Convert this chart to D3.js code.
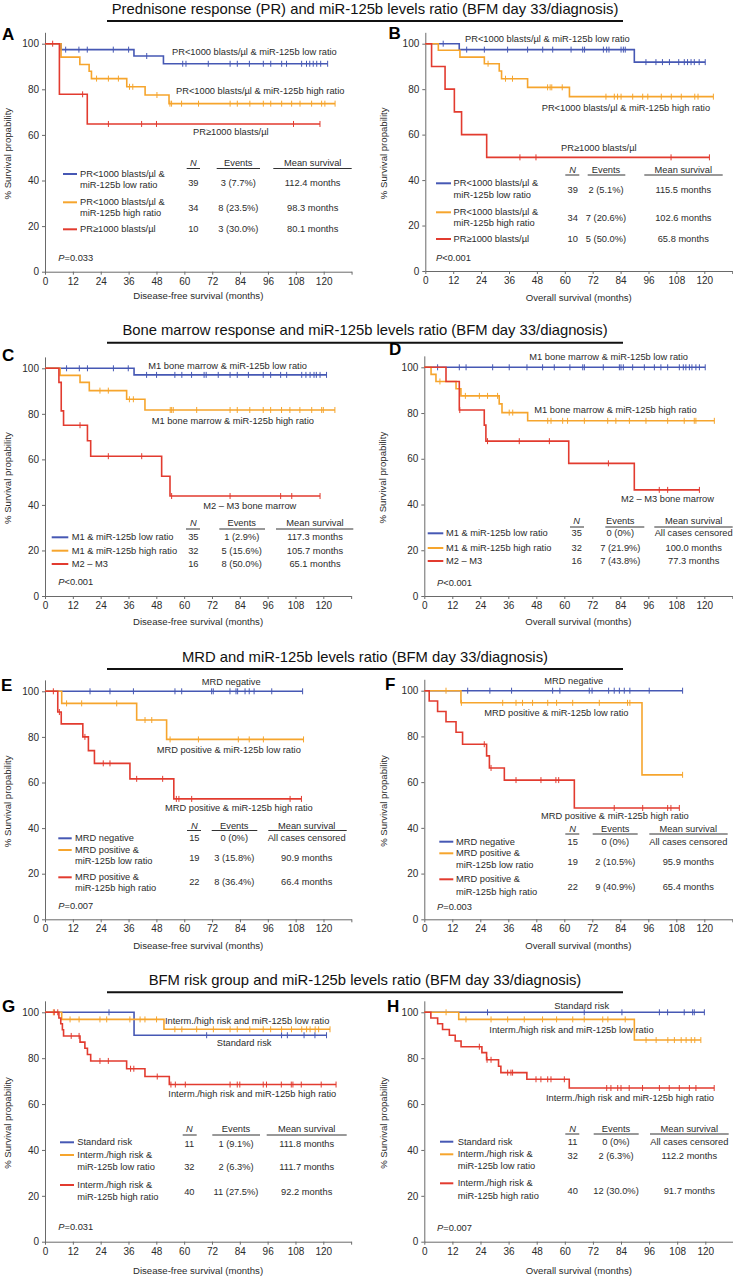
<!DOCTYPE html>
<html><head><meta charset="utf-8">
<script src="https://cdn.jsdelivr.net/npm/d3@7"></script>
<style>body{margin:0;background:#fff}svg{display:block}</style>
</head><body><svg id="c" width="733" height="1276"></svg>
<script>
// ---------- shared ----------
const monthTicks = [0,12,24,36,48,60,72,84,96,108,120,132];
const yTicks = [0,20,40,60,80,100];
const sectionTitles = [
  "Prednisone response (PR) and miR-125b levels ratio (BFM day 33/diagnosis)",
  "Bone marrow response and miR-125b levels ratio (BFM day 33/diagnosis)",
  "MRD and miR-125b levels ratio (BFM day 33/diagnosis)",
  "BFM risk group and miR-125b levels ratio (BFM day 33/diagnosis)"
];
const yAxisTitle = "% Survival propability";
const tableHeads = ["N","Events","Mean survival"];

// ---------- Panel A ----------
const A_blueSteps = [[6.9,97.4],[38.3,94.6],[51.0,91.2]];
const A_blueCens = [8.9,14.6,18.2,29.4,36.0,43.8,59.3,60.7,70.3,79.7,82.8,88.0,94.0,97.2,101.9,104.0,110.5,112.6,114.0,115.5,117.0,118.7,121.7];
const A_orangeSteps = [[6.9,94.1],[15.0,90.9],[19.0,87.9],[20.0,84.7],[35.2,81.1],[43.1,77.5],[53.4,73.7]];
const A_orangeCens = [22.2,27.3,31.6,36.4,37.8,48.2,53.8,54.5,58.8,66.1,79.7,82.8,88.2,94.0,97.2,101.9,106.2,109.8,114.8,119.1,120.5,124.9];
const A_redSteps = [[6.2,77.8],[18.2,64.8]];
const A_redCens = [3.3,16.2,27.3,41.6,48.0,107.0,118.4];
const A_curveLabels = ["PR<1000 blasts/µl & miR-125b low ratio","PR<1000 blasts/µl & miR-125b high ratio","PR≥1000 blasts/µl"];
const A_legend = [["PR<1000 blasts/µl &","miR-125b low ratio"],["PR<1000 blasts/µl &","miR-125b high ratio"],["PR≥1000 blasts/µl"]];
const A_table = [["39","3 (7.7%)","112.4 months"],["34","8 (23.5%)","98.3 months"],["10","3 (30.0%)","80.1 months"]];
const A_p = ["=","0.033"];

// ---------- Panel B ----------
const B_blueSteps = [[14.6,97.4],[89.9,91.9]];
const B_blueCens = [7.7,17.8,25.4,35.4,44.0,50.5,54.8,62.7,67.7,68.5,76.6,78.0,79.0,84.2,85.2,86.0,94.9,99.2,102.0,105.0,109.0,111.4,112.8,114.3,115.7,117.8,120.4];
const B_orangeSteps = [[5.6,97.1],[14.9,94.1],[25.4,91.2],[31.8,88.0],[32.8,84.6],[44.0,80.8],[62.0,76.7]];
const B_orangeCens = [27.0,34.5,37.5,52.6,53.7,54.4,58.9,77.7,81.3,82.7,84.2,89.2,93.5,95.7,101.5,105.8,110.1,115.9,117.3,123.9];
const B_redSteps = [[2.7,90],[8.5,80],[12.5,70],[15.6,60],[26.4,50]];
const B_redCens = [40.7,47.6,105.7,122.2];
const B_curveLabels = A_curveLabels;
const B_legend = A_legend;
const B_table = [["39","2 (5.1%)","115.5 months"],["34","7 (20.6%)","102.6 months"],["10","5 (50.0%)","65.8 months"]];
const B_p = ["<","0.001"];

// ---------- Panel C ----------
const C_blueSteps = [[38.4,97.1]];
const C_blueCens = [9.3,14.8,18.3,29.5,35.9,43.8,48.1,56.0,59.0,63.2,68.6,69.5,74.7,79.8,82.9,87.7,94.1,97.3,101.6,104.2,110.7,112.5,114.3,116.0,117.0,118.6,121.4];
const C_orangeSteps = [[6.5,96.9],[15.1,93.8],[19.1,90.2],[35.2,86.4],[43.1,81.7]];
const C_orangeCens = [23.7,27.3,36.4,38.1,54.0,54.6,55.3,65.4,79.8,82.9,88.3,94.1,97.3,102.0,105.6,109.9,115.0,119.3,120.0,125.0];
const C_redSteps = [[6.0,93.8],[7.0,81.3],[8.0,75.0],[18.3,68.2],[19.7,61.4],[50.3,52.6],[53.9,43.9]];
const C_redCens = [15.1,27.3,41.7,54.6,79.8,101.6,106.4,118.6];
const C_curveLabels = ["M1 bone marrow & miR-125b low ratio","M1 bone marrow & miR-125b high ratio","M2 – M3 bone marrow"];
const C_legend = [["M1 & miR-125b low ratio"],["M1 & miR-125b high ratio"],["M2 – M3"]];
const C_table = [["35","1 (2.9%)","117.3 months"],["32","5 (15.6%)","105.7 months"],["16","8 (50.0%)","65.1 months"]];
const C_p = ["<","0.001"];

// ---------- Panel D ----------
const D_blueSteps = [];
const D_blueCens = [5.7,15.0,17.9,29.3,36.4,44.0,50.7,55.7,62.4,67.9,68.6,76.7,83.6,84.3,85.3,89.3,94.3,98.6,101.4,104.3,109.3,111.0,112.1,113.6,114.7,116.4,117.9,120.4];
const D_orangeSteps = [[2.9,96.9],[5.0,93.8],[13.6,90.6],[15.7,87.5],[32.1,84.0],[33.3,80.2],[44.3,76.6]];
const D_orangeCens = [6.7,17.6,23.6,27.1,31.4,36.4,37.9,52.9,54.3,59.3,61.4,68.6,78.6,82.1,87.9,95.0,104.3,111.4,115.7,116.4,124.3];
const D_redSteps = [[9.3,93.8],[15.0,81.3],[25.7,74.7],[26.4,67.7],[61.9,58.0],[90.0,46.4]];
const D_redCens = [15.2,27.1,40.7,53.6,78.9,100.7,104.3,117.9];
const D_curveLabels = C_curveLabels;
const D_legend = C_legend;
const D_table = [["35","0 (0%)","All cases censored"],["32","7 (21.9%)","100.0 months"],["16","7 (43.8%)","77.3 months"]];
const D_p = ["<","0.001"];

// ---------- Panel E ----------
const E_blueSteps = [];
const E_blueCens = [19.4,28.0,38.1,56.0,58.9,71.8,72.5,79.7,82.3,83.0,86.2,88.0,90.1,97.7,111.0];
const E_orangeSteps = [[7.2,94.7],[39.5,87.4],[52.4,78.9]];
const E_orangeCens = [9.3,15.8,30.9,43.1,46.0,53.9,66.1,83.3,88.0,94.1,111.4];
const E_redSteps = [[5.5,90.9],[7.0,85.7],[16.3,80.0],[18.7,74.0],[21.3,68.4],[36.6,61.6],[55.5,52.8]];
const E_redCens = [3.6,6.2,17.2,25.1,28.0,39.5,50.7,56.6,57.7,63.2,105.6,110.5];
const E_curveLabels = ["MRD negative","MRD positive & miR-125b low ratio","MRD positive & miR-125b high ratio"];
const E_legend = [["MRD negative"],["MRD positive &","miR-125b low ratio"],["MRD positive &","miR-125b high ratio"]];
const E_table = [["15","0 (0%)","All cases censored"],["19","3 (15.8%)","90.9 months"],["22","8 (36.4%)","66.4 months"]];
const E_p = ["=","0.007"];

// ---------- Panel F ----------
const F_blueSteps = [];
const F_blueCens = [18.6,28.1,37.4,55.0,58.1,70.7,71.9,79.0,81.4,83.6,85.7,88.1,96.4,110.7];
const F_orangeSteps = [[15.7,94.7],[93.3,63.2]];
const F_orangeCens = [9.3,15.9,33.6,39.3,42.1,46.4,52.9,56.7,63.6,75.0,87.1,88.1,110.7];
const F_redSteps = [[2.1,95.5],[5.7,90.9],[9.3,86.4],[13.6,81.8],[16.4,76.6],[26.7,71.5],[27.9,66.2],[34.3,60.9],[64.3,48.7]];
const F_redCens = [25.7,28.6,39.3,50.0,56.4,57.6,81.4,93.6,104.3,105.7,109.3];
const F_curveLabels = E_curveLabels;
const F_legend = E_legend;
const F_table = [["15","0 (0%)","All cases censored"],["19","2 (10.5%)","95.9 months"],["22","9 (40.9%)","65.4 months"]];
const F_p = ["=","0.003"];

// ---------- Panel G ----------
const G_blueSteps = [[38.4,90.0]];
const G_blueCens = [27.6,69.7,102.0,104.5,111.7,116.4,121.4];
const G_orangeSteps = [[7.2,96.9],[51.3,92.6]];
const G_orangeCens = [3.6,10.8,14.7,23.7,26.6,36.6,41.0,43.1,48.1,56.0,59.0,65.4,72.6,79.8,82.9,88.3,94.1,97.3,102.0,106.3,110.7,112.8,114.3,116.5,118.0,122.9];
const G_redSteps = [[6.0,97.5],[6.8,95.0],[7.5,92.4],[8.0,89.7],[15.1,87.0],[17.2,84.3],[18.3,81.6],[19.7,78.8],[35.2,75.4],[43.1,72.0],[53.6,68.5]];
const G_redCens = [4.0,5.5,11.3,14.7,23.7,27.3,36.9,38.3,48.4,54.3,56.2,60.5,79.8,82.9,84.0,94.1,95.5,101.9,106.2,106.9,110.5,119.1,125.5];
const G_curveLabels = ["Standard risk","Interm./high risk and miR-125b low ratio","Interm./high risk and miR-125b high ratio"];
const G_legend = [["Standard risk"],["Interm./high risk &","miR-125b low ratio"],["Interm./high risk &","miR-125b high ratio"]];
const G_table = [["11","1 (9.1%)","111.8 months"],["32","2 (6.3%)","111.7 months"],["40","11 (27.5%)","92.2 months"]];
const G_p = ["=","0.031"];

// ---------- Panel H ----------
const H_blueSteps = [];
const H_blueCens = [27.0,68.3,84.4,100.4,103.9,111.0,114.6,115.3,119.6];
const H_orangeSteps = [[14.7,96.9],[89.7,87.9]];
const H_orangeCens = [9.3,17.8,28.5,35.6,42.7,50.5,56.5,63.4,68.3,76.2,78.4,85.8,94.7,99.0,104.0,106.8,109.7,111.8,114.0,115.5,118.1];
const H_redSteps = [[2.8,97.5],[5.7,95.0],[7.8,92.5],[10.7,90.0],[13.2,87.5],[15.7,85.0],[24.6,82.4],[26.6,79.3],[31.7,76.5],[32.7,73.7],[43.8,70.8],[61.9,67.0]];
const H_redCens = [23.5,26.8,28.5,35.6,37.0,37.7,47.7,49.8,52.7,54.1,59.8,77.9,79.7,82.6,84.0,87.5,93.2,100.4,104.6,108.9,113.2,116.0,123.8];
const H_curveLabels = G_curveLabels;
const H_legend = G_legend;
const H_table = [["11","0 (0%)","All cases censored"],["32","2 (6.3%)","112.2 months"],["40","12 (30.0%)","91.7 months"]];
const H_p = ["=","0.007"];

// ---------- styling ----------
const FONT = '"Liberation Sans", Arial, Helvetica, sans-serif';
const COLORS = {blue:"#4658b4", orange:"#f6a52d", red:"#e23b2f"};
const TXT = "#2b2b2b";

// ---------- layout ----------
const panels = [
 {letter:"A", lx:2, ly:40, x0:45, x120:323.7, y100:43.7, y0:271.7, ylabX:7, xlab:"Disease-free survival (months)", xlabY:295.5,
  series:[["blue",A_blueSteps,A_blueCens],["orange",A_orangeSteps,A_orangeCens],["red",A_redSteps,A_redCens]],
  labels:A_curveLabels, labelPos:[[172,52],[176,90.7],[193,131.7]],
  legend:A_legend, legX:[63,77], legTextX:80, legY:[[174,185],[202.3,213.3],[229.3]],
  table:A_table, cols:[193.3,238.3,312.7], headY:163.3, ulY:168.5, ul:[[186.7,200],[216.7,260],[273.3,351.7]], rowY:[183.3,207.7,229.3],
  p:A_p, pX:58.3, pY:257.7},
 {letter:"B", lx:388.5, ly:38.5, x0:425.3, x120:704.3, y100:43.7, y0:271, ylabX:383.5, xlab:"Overall survival (months)", xlabY:297.5,
  series:[["blue",B_blueSteps,B_blueCens],["orange",B_orangeSteps,B_orangeCens],["red",B_redSteps,B_redCens]],
  labels:B_curveLabels, labelPos:[[465,39.3],[541.7,108.3],[561,148.3]],
  legend:B_legend, legX:[436,451], legTextX:453.5, legY:[[183.3,195],[212.3,223.3],[239]],
  table:B_table, cols:[572.7,606,683.3], headY:170, ulY:175, ul:[[565.3,579.3],[587.7,625.3],[644.3,722.7]], rowY:[190,218.3,239],
  p:B_p, pX:436, pY:257.7},
 {letter:"C", lx:2, ly:360.7, x0:45, x120:323.3, y100:368.3, y0:596, ylabX:7, xlab:"Disease-free survival (months)", xlabY:621,
  series:[["blue",C_blueSteps,C_blueCens],["orange",C_orangeSteps,C_orangeCens],["red",C_redSteps,C_redCens]],
  labels:C_curveLabels, labelPos:[[148.3,366],[151.7,420.7],[203.3,505.7]],
  legend:C_legend, legX:[51.7,68.3], legTextX:71.7, legY:[[537.3],[550.7],[564]],
  table:C_table, cols:[193.3,241.7,315], headY:523.3, ulY:529, ul:[[186,200],[219.3,265],[276,353.3]], rowY:[537.3,550.7,564],
  p:C_p, pX:58.3, pY:581.7},
 {letter:"D", lx:389, ly:355, x0:424.3, x120:704.3, y100:367.3, y0:596, ylabX:382.5, xlab:"Overall survival (months)", xlabY:621,
  series:[["blue",D_blueSteps,D_blueCens],["orange",D_orangeSteps,D_orangeCens],["red",D_redSteps,D_redCens]],
  labels:D_curveLabels, labelPos:[[529.3,357.3],[534.3,410],[621,499]],
  legend:D_legend, legX:[427.7,443.3], legTextX:446, legY:[[533.3],[548],[561]],
  table:D_table, cols:[576.7,620.3,693.7], headY:521, ulY:527, ul:[[570,584],[605.3,644.3],[654.3,732.7]], rowY:[533.3,548,561],
  p:D_p, pX:437, pY:583.3},
 {letter:"E", lx:1, ly:691, x0:45, x120:323.5, y100:691.3, y0:919.3, ylabX:7, xlab:"Disease-free survival (months)", xlabY:945,
  series:[["blue",E_blueSteps,E_blueCens],["orange",E_orangeSteps,E_orangeCens],["red",E_redSteps,E_redCens]],
  labels:E_curveLabels, labelPos:[[201.7,681.7],[156.7,750],[165,807.7]],
  legend:E_legend, legX:[58.3,71.7], legTextX:75, legY:[[838.3],[850,861],[877.3,888.3]],
  table:E_table, cols:[194.3,234.3,306.7], headY:825.7, ulY:830.5, ul:[[187,201],[211.7,257.3],[268.3,346.7]], rowY:[838.3,858.3,882.3],
  p:E_p, pX:58.3, pY:906},
 {letter:"F", lx:385, ly:690, x0:424.3, x120:704.3, y100:690.7, y0:919.3, ylabX:383, xlab:"Overall survival (months)", xlabY:945,
  series:[["blue",F_blueSteps,F_blueCens],["orange",F_orangeSteps,F_orangeCens],["red",F_redSteps,F_redCens]],
  labels:F_curveLabels, labelPos:[[544.3,681],[484.3,713.3],[541,815.7]],
  legend:F_legend, legX:[439.3,453.3], legTextX:456, legY:[[841.7],[853.3,865],[879.3,892.3]],
  table:F_table, cols:[572.7,615.3,688.3], headY:829, ulY:834, ul:[[565.3,579.3],[592.7,637.7],[649.3,727.7]], rowY:[841.7,861.7,886.7],
  p:F_p, pX:437, pY:907.3},
 {letter:"G", lx:2, ly:1011.7, x0:45, x120:323.3, y100:1012.3, y0:1241.7, ylabX:7, xlab:"Disease-free survival (months)", xlabY:1270,
  series:[["blue",G_blueSteps,G_blueCens],["orange",G_orangeSteps,G_orangeCens],["red",G_redSteps,G_redCens]],
  labels:G_curveLabels, labelPos:[[216.7,1043.3],[165,1021],[168.3,1094.3]],
  legend:G_legend, legX:[60,74], legTextX:77.3, legY:[[1142.3],[1155,1166.7],[1185,1196.7]],
  table:G_table, cols:[189.3,236,306.7], headY:1129.3, ulY:1135, ul:[[182.7,196.7],[212.3,260],[266.7,346.7]], rowY:[1144,1166.7,1191.7],
  p:G_p, pX:58.3, pY:1226.7},
 {letter:"H", lx:387, ly:1011.7, x0:424.3, x120:705.3, y100:1012.3, y0:1241.7, ylabX:383, xlab:"Overall survival (months)", xlabY:1270,
  series:[["blue",H_blueSteps,H_blueCens],["orange",H_orangeSteps,H_orangeCens],["red",H_redSteps,H_redCens]],
  labels:H_curveLabels, labelPos:[[554.3,1005.7],[489.3,1030],[546,1098.3]],
  legend:H_legend, legX:[440,453.3], legTextX:457.7, legY:[[1141.7],[1154.3,1165.7],[1183.3,1195.7]],
  table:H_table, cols:[572.7,616,689.3], headY:1129, ulY:1134, ul:[[565.3,579.3],[593.7,638.7],[650,728.7]], rowY:[1142.3,1155.7,1190.7],
  p:H_p, pX:437, pY:1228.3}
];
const titleY = [21, 342.7, 669, 992.3];
const colorOrder = ["blue","orange","red"];

const svg = d3.select("#c").style("font-family", FONT);

// section titles
sectionTitles.forEach((t,i) => {
  svg.append("text").attr("x",365).attr("y",titleY[i]-7.5).attr("text-anchor","middle")
    .attr("font-size",14.8).attr("fill","#111").text(t);
  svg.append("line").attr("x1",107).attr("x2",623).attr("y1",titleY[i]).attr("y2",titleY[i])
    .attr("stroke","#111").attr("stroke-width",2);
});

function survAt(steps, t){
  let v = 100;
  steps.forEach(([st,sv]) => { if (st <= t) v = sv; });
  return v;
}

panels.forEach(p => {
  const g = svg.append("g");
  const kx = (p.x120 - p.x0)/120;
  const ky = (p.y0 - p.y100)/100;
  const x = d3.scaleLinear().domain([0,132]).range([p.x0, p.x0 + 132*kx]);
  const y = d3.scaleLinear().domain([0,105]).range([p.y0, p.y0 - 105*ky]);

  g.append("g").attr("transform",`translate(0,${p.y0})`)
    .call(d3.axisBottom(x).tickValues(monthTicks).tickSize(3).tickSizeOuter(0).tickPadding(3)
      .tickFormat(d => d <= 120 ? d : ""));
  g.append("g").attr("transform",`translate(${p.x0},0)`)
    .call(d3.axisLeft(y).tickValues(yTicks).tickSize(3).tickSizeOuter(0).tickPadding(3));
  g.selectAll(".domain, .tick line").attr("stroke","#6a6a6a").attr("stroke-width",1);
  g.selectAll(".tick text").attr("font-size",10).attr("fill",TXT).attr("font-family",FONT);

  // axis titles
  g.append("text").attr("transform",`translate(${p.ylabX},${(p.y0+p.y100)/2-4}) rotate(-90)`)
    .attr("text-anchor","middle").attr("dominant-baseline","central").attr("font-size",9.6).attr("fill",TXT).text(yAxisTitle);
  g.append("text").attr("x",(x(0)+x(132))/2).attr("y",p.xlabY).attr("text-anchor","middle")
    .attr("dominant-baseline","central").attr("font-size",9.6).attr("fill",TXT).text(p.xlab);

  // panel letter
  g.append("text").attr("x",p.lx).attr("y",p.ly).attr("font-size",17).attr("font-weight","bold").attr("fill","#000").text(p.letter);

  // curves
  p.series.forEach(([col, steps, cens]) => {
    const pts = [[0,100]];
    let cur = 100;
    steps.forEach(([t,v]) => { pts.push([t,cur]); pts.push([t,v]); cur = v; });
    const end = d3.max([...cens, ...steps.map(d => d[0])]);
    pts.push([end, cur]);
    g.append("path").attr("d", d3.line().x(d => x(d[0])).y(d => y(d[1]))(pts))
      .attr("fill","none").attr("stroke",COLORS[col]).attr("stroke-width",1.6);
    g.selectAll(null).data(cens).join("line")
      .attr("x1", d => x(d)).attr("x2", d => x(d))
      .attr("y1", d => y(survAt(steps,d)) - 3).attr("y2", d => y(survAt(steps,d)) + 3)
      .attr("stroke",COLORS[col]).attr("stroke-width",1);
  });

  // curve labels
  p.labels.forEach((t,i) => {
    g.append("text").attr("x",p.labelPos[i][0]).attr("y",p.labelPos[i][1]).attr("dominant-baseline","central")
      .attr("font-size",9.3).attr("fill",TXT).text(t);
  });

  // legend
  p.legend.forEach((lines,i) => {
    const ys = p.legY[i];
    g.append("line").attr("x1",p.legX[0]).attr("x2",p.legX[1]).attr("y1",ys[0]).attr("y2",ys[0])
      .attr("stroke",COLORS[colorOrder[i]]).attr("stroke-width",2);
    lines.forEach((t,j) => {
      g.append("text").attr("x",p.legTextX).attr("y",ys[j]).attr("dominant-baseline","central")
        .attr("font-size",9.3).attr("fill",TXT).text(t);
    });
  });

  // table
  tableHeads.forEach((h,i) => {
    g.append("text").attr("x",p.cols[i]).attr("y",p.headY).attr("text-anchor","middle").attr("dominant-baseline","central")
      .attr("font-size",9.3).attr("fill",TXT).attr("font-style", i===0 ? "italic" : null).text(h);
    g.append("line").attr("x1",p.ul[i][0]).attr("x2",p.ul[i][1]).attr("y1",p.ulY).attr("y2",p.ulY)
      .attr("stroke","#333").attr("stroke-width",1);
  });
  p.table.forEach((row,r) => {
    row.forEach((v,c) => {
      g.append("text").attr("x",p.cols[c]).attr("y",p.rowY[r]).attr("text-anchor","middle").attr("dominant-baseline","central")
        .attr("font-size",9.3).attr("fill",TXT).text(v);
    });
  });

  // P value
  const pt = g.append("text").attr("x",p.pX).attr("y",p.pY).attr("dominant-baseline","central").attr("font-size",9.3).attr("fill",TXT);
  pt.append("tspan").attr("font-style","italic").text("P");
  pt.append("tspan").text(p.p[0] + p.p[1]);
});
</script></body></html>
